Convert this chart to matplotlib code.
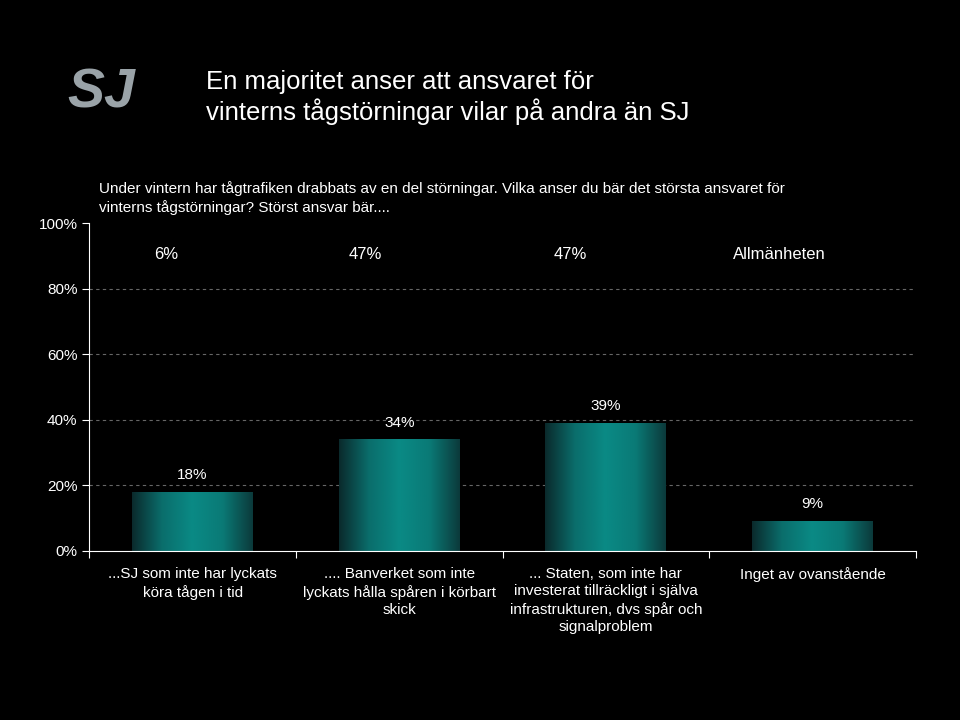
import numpy as np
import matplotlib.pyplot as plt
from matplotlib.colors import LinearSegmentedColormap

categories = ["...SJ som inte har lyckats\nköra tågen i tid",
              ".... Banverket som inte\nlyckats hålla spåren i körbart\nskick",
              "... Staten, som inte har\ninvesterat tillräckligt i själva\ninfrastrukturen, dvs spår och\nsignalproblem",
              "Inget av ovanstående"]
values = [18, 34, 39, 9]
top_labels = ["6%", "47%", "47%", "Allmänheten"]
yticks = [0, 20, 40, 60, 80, 100]

fig = plt.figure(figsize=(9.6, 7.2), dpi=100)
fig.patch.set_facecolor("black")
ax = fig.add_axes([0.093, 0.235, 0.861, 0.455])
ax.set_facecolor("black")

cmap = LinearSegmentedColormap.from_list("teal", ["#0b2a2c", "#0a6e6c", "#0a8a85", "#0a7a76", "#0c3a3b"])
grad = np.linspace(0, 1, 256).reshape(1, -1)
x = np.arange(len(values))
w = 0.585
for xi, v in zip(x, values):
    ax.imshow(grad, cmap=cmap, aspect="auto", extent=[xi - w/2, xi + w/2, 0, v], zorder=2)
    ax.text(xi, v + 3, f"{v}%", color="white", ha="center", va="bottom", fontsize=11,
            fontfamily="Liberation Sans")

ax.set_xlim(-0.5, len(values) - 0.5)
ax.set_ylim(0, 100)
ax.set_yticks(yticks)
ax.set_yticklabels([f"{t}%" for t in yticks], color="white", fontsize=11, fontfamily="Liberation Sans")
ax.set_xticks(np.arange(len(values) + 1) - 0.5)
ax.set_xticklabels([])
ax.tick_params(colors="white", length=5)
for xi, c in zip(x, categories):
    ax.text(xi, -5, c, color="white", ha="center", va="top", fontsize=11,
            fontfamily="Liberation Sans", linespacing=1.3)
for t in yticks[1:-1]:
    ax.axhline(t, color="#666666", ls=(0, (3, 3)), lw=0.8, zorder=1)
for s in ["top", "right"]:
    ax.spines[s].set_visible(False)
ax.spines["left"].set_color("white")
ax.spines["bottom"].set_color("white")

# top row labels
for xi, t in zip([-0.13, 0.835, 1.83, 2.84], top_labels):
    ax.text(xi, 90.5, t, color="white", ha="center", va="center", fontsize=12, fontfamily="Liberation Sans")

fig.text(0.103, 0.725, "Under vintern har tågtrafiken drabbats av en del störningar. Vilka anser du bär det största ansvaret för\nvinterns tågstörningar? Störst ansvar bär....",
         color="white", fontsize=11, va="center", fontfamily="Liberation Sans", linespacing=1.3)
fig.text(0.215, 0.865, "En majoritet anser att ansvaret för\nvinterns tågstörningar vilar på andra än SJ",
         color="white", fontsize=18.5, va="center", fontfamily="Liberation Sans", linespacing=1.2)
# logo stand-in
fig.text(0.105, 0.87, "SJ", color="#9aa3a8", fontsize=40, fontweight="bold", style="italic",
         ha="center", va="center", fontfamily="Liberation Sans")

fig.savefig("out.png", facecolor="black")
